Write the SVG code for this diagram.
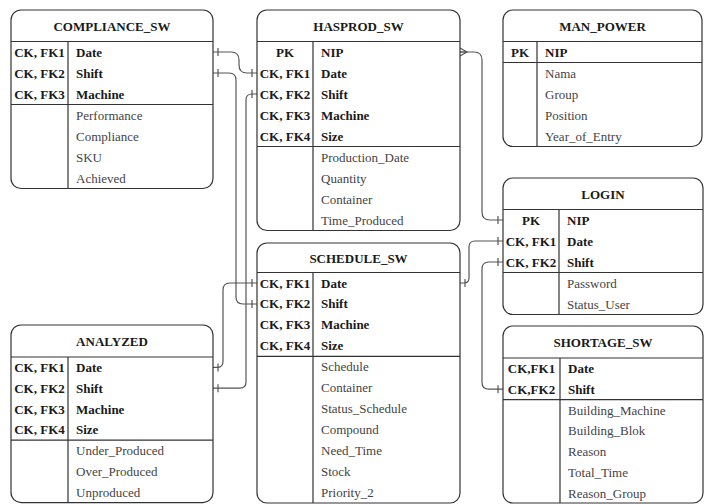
<svg xmlns="http://www.w3.org/2000/svg" width="704" height="504" viewBox="0 0 704 504">
  <style>
    .box { fill: #ffffff; stroke: #333333; stroke-width: 1.2; }
    .rule { stroke: #333333; stroke-width: 1.2; fill: none; }
    .title { font-family: "Liberation Serif", "Times New Roman", serif; font-size: 13px; font-weight: bold; fill: #1a1a1a; text-anchor: middle; }
    .key { font-family: "Liberation Serif", "Times New Roman", serif; font-size: 13px; font-weight: bold; fill: #1a1a1a; text-anchor: middle; }
    .kname { font-family: "Liberation Serif", "Times New Roman", serif; font-size: 13px; font-weight: bold; fill: #1a1a1a; }
    .attr { font-family: "Liberation Serif", "Times New Roman", serif; font-size: 13px; fill: #444444; }
    .link { fill: none; stroke: #555555; stroke-width: 1.2; marker-end: url(#one); }
    .one { marker-start: url(#one); }
    .many { marker-start: url(#many); }
  </style>
  <defs>
    <marker id="one" markerUnits="userSpaceOnUse" viewBox="0 0 20 20" markerWidth="20" markerHeight="20" refX="10" refY="10" orient="auto-start-reverse">
      <path d="M5 6 V14" stroke="#555555" stroke-width="1.2" fill="none"/>
    </marker>
    <marker id="many" markerUnits="userSpaceOnUse" viewBox="0 0 20 20" markerWidth="20" markerHeight="20" refX="10" refY="10" orient="auto-start-reverse">
      <path d="M10 6 L3 10 L10 14 M10 10 H3" stroke="#555555" stroke-width="1.2" fill="none"/>
    </marker>
  </defs>

  <!-- relationships -->
  <g id="connectors">
    <path class="link one" d="M213 52 H231 Q239 52 239 60 V65 Q239 73 247 73 H257"/>
    <path class="link one" d="M213 73 H229 Q236 73 236 80 V297 Q236 304 243 304 H257"/>
    <path class="link one" d="M257 94 H252 Q246 94 246 100 V382 Q246 388.2 240 388.2 H213"/>
    <path class="link one" d="M257 283 H230 Q223 283 223 290 V361.4 Q223 367.4 217 367.4 H213"/>
    <path class="link many" d="M460 52 H474 Q482 52 482 60 V212 Q482 220 490 220 H503"/>
    <path class="link one" d="M460 283 H464 Q469 283 469 278 V247 Q469 241 475 241 H503"/>
    <path class="link one" d="M503 262 H489 Q482 262 482 269 V382.2 Q482 389.2 489 389.2 H503"/>
  </g>

  <!-- COMPLIANCE_SW -->
  <g id="compliance_sw">
    <rect class="box" x="11" y="10" width="202" height="178.5" rx="10"/>
    <path class="rule" d="M11 41.5 H213 M11 104.5 H213 M68 41.5 V188.5"/>
    <text class="title" x="112" y="30.5">COMPLIANCE_SW</text>
    <text class="key" x="39.5" y="56.5">CK, FK1</text>
    <text class="key" x="39.5" y="77.5">CK, FK2</text>
    <text class="key" x="39.5" y="98.5">CK, FK3</text>
    <text class="kname" x="76" y="56.5">Date</text>
    <text class="kname" x="76" y="77.5">Shift</text>
    <text class="kname" x="76" y="98.5">Machine</text>
    <text class="attr" x="76" y="119.5">Performance</text>
    <text class="attr" x="76" y="140.5">Compliance</text>
    <text class="attr" x="76" y="161.5">SKU</text>
    <text class="attr" x="76" y="182.5">Achieved</text>
  </g>

  <!-- HASPROD_SW -->
  <g id="hasprod_sw">
    <rect class="box" x="257" y="10" width="203" height="220.5" rx="10"/>
    <path class="rule" d="M257 41.5 H460 M257 146.5 H460 M313 41.5 V230.5"/>
    <text class="title" x="358.5" y="30.5">HASPROD_SW</text>
    <text class="key" x="285" y="56.5">PK</text>
    <text class="key" x="285" y="77.5">CK, FK1</text>
    <text class="key" x="285" y="98.5">CK, FK2</text>
    <text class="key" x="285" y="119.5">CK, FK3</text>
    <text class="key" x="285" y="140.5">CK, FK4</text>
    <text class="kname" x="321" y="56.5">NIP</text>
    <text class="kname" x="321" y="77.5">Date</text>
    <text class="kname" x="321" y="98.5">Shift</text>
    <text class="kname" x="321" y="119.5">Machine</text>
    <text class="kname" x="321" y="140.5">Size</text>
    <text class="attr" x="321" y="161.5">Production_Date</text>
    <text class="attr" x="321" y="182.5">Quantity</text>
    <text class="attr" x="321" y="203.5">Container</text>
    <text class="attr" x="321" y="224.5">Time_Produced</text>
  </g>

  <!-- MAN_POWER -->
  <g id="man_power">
    <rect class="box" x="503" y="10" width="199" height="136.5" rx="10"/>
    <path class="rule" d="M503 41.5 H702 M503 62.5 H702 M537 41.5 V146.5"/>
    <text class="title" x="602.5" y="30.5">MAN_POWER</text>
    <text class="key" x="520" y="56.5">PK</text>
    <text class="kname" x="545" y="56.5">NIP</text>
    <text class="attr" x="545" y="77.5">Nama</text>
    <text class="attr" x="545" y="98.5">Group</text>
    <text class="attr" x="545" y="119.5">Position</text>
    <text class="attr" x="545" y="140.5">Year_of_Entry</text>
  </g>

  <!-- LOGIN -->
  <g id="login">
    <rect class="box" x="503" y="178" width="200" height="136.5" rx="10"/>
    <path class="rule" d="M503 209.5 H703 M503 272.5 H703 M559 209.5 V314.5"/>
    <text class="title" x="603" y="198.5">LOGIN</text>
    <text class="key" x="531" y="224.5">PK</text>
    <text class="key" x="531" y="245.5">CK, FK1</text>
    <text class="key" x="531" y="266.5">CK, FK2</text>
    <text class="kname" x="567" y="224.5">NIP</text>
    <text class="kname" x="567" y="245.5">Date</text>
    <text class="kname" x="567" y="266.5">Shift</text>
    <text class="attr" x="567" y="287.5">Password</text>
    <text class="attr" x="567" y="308.5">Status_User</text>
  </g>

  <!-- SCHEDULE_SW -->
  <g id="schedule_sw">
    <rect class="box" x="257" y="243" width="203" height="260" rx="10"/>
    <path class="rule" d="M257 272.5 H460 M257 356.3 H460 M313 272.5 V503"/>
    <text class="title" x="358.5" y="262.5">SCHEDULE_SW</text>
    <text class="key" x="285" y="287.5">CK, FK1</text>
    <text class="key" x="285" y="308.4">CK, FK2</text>
    <text class="key" x="285" y="329.4">CK, FK3</text>
    <text class="key" x="285" y="350.3">CK, FK4</text>
    <text class="kname" x="321" y="287.5">Date</text>
    <text class="kname" x="321" y="308.4">Shift</text>
    <text class="kname" x="321" y="329.4">Machine</text>
    <text class="kname" x="321" y="350.3">Size</text>
    <text class="attr" x="321" y="371.3">Schedule</text>
    <text class="attr" x="321" y="392.2">Container</text>
    <text class="attr" x="321" y="413.2">Status_Schedule</text>
    <text class="attr" x="321" y="434.1">Compound</text>
    <text class="attr" x="321" y="455.1">Need_Time</text>
    <text class="attr" x="321" y="476">Stock</text>
    <text class="attr" x="321" y="497">Priority_2</text>
  </g>

  <!-- ANALYZED -->
  <g id="analyzed">
    <rect class="box" x="11" y="325" width="202" height="177.6" rx="10"/>
    <path class="rule" d="M11 357 H213 M11 440.2 H213 M68 357 V502.6"/>
    <text class="title" x="112" y="345.5">ANALYZED</text>
    <text class="key" x="39.5" y="371.9">CK, FK1</text>
    <text class="key" x="39.5" y="392.7">CK, FK2</text>
    <text class="key" x="39.5" y="413.5">CK, FK3</text>
    <text class="key" x="39.5" y="434.3">CK, FK4</text>
    <text class="kname" x="76" y="371.9">Date</text>
    <text class="kname" x="76" y="392.7">Shift</text>
    <text class="kname" x="76" y="413.5">Machine</text>
    <text class="kname" x="76" y="434.3">Size</text>
    <text class="attr" x="76" y="455.1">Under_Produced</text>
    <text class="attr" x="76" y="475.9">Over_Produced</text>
    <text class="attr" x="76" y="496.7">Unproduced</text>
  </g>

  <!-- SHORTAGE_SW -->
  <g id="shortage_sw">
    <rect class="box" x="503" y="326" width="200" height="177" rx="10"/>
    <path class="rule" d="M503 358 H703 M503 399.6 H703 M560 358 V503"/>
    <text class="title" x="603" y="346.5">SHORTAGE_SW</text>
    <text class="key" x="531.5" y="372.9">CK,FK1</text>
    <text class="key" x="531.5" y="393.7">CK,FK2</text>
    <text class="kname" x="568" y="372.9">Date</text>
    <text class="kname" x="568" y="393.7">Shift</text>
    <text class="attr" x="568" y="414.5">Building_Machine</text>
    <text class="attr" x="568" y="435.3">Building_Blok</text>
    <text class="attr" x="568" y="456.1">Reason</text>
    <text class="attr" x="568" y="476.9">Total_Time</text>
    <text class="attr" x="568" y="497.7">Reason_Group</text>
  </g>
</svg>
